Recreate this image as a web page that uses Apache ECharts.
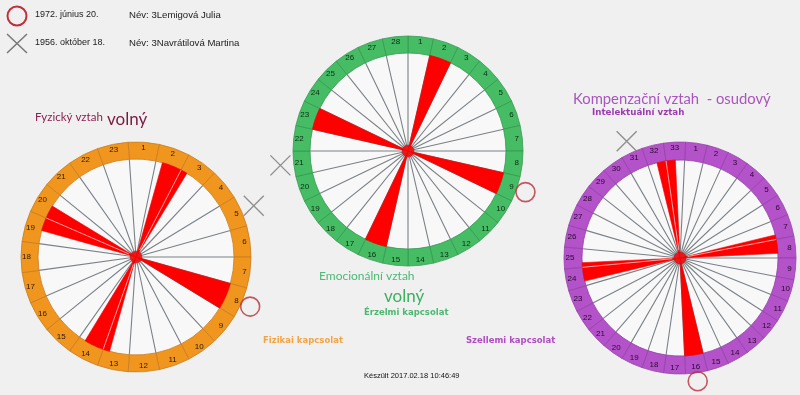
<!DOCTYPE html>
<html><head><meta charset="utf-8">
<script src="https://cdn.jsdelivr.net/npm/echarts@6/dist/echarts.min.js"></script>
<style>html,body{margin:0;padding:0;background:#f0f0f0}#c{width:800px;height:395px}</style>
</head><body><div id="c"></div>
<script>
// ---- data ----
const cycleLengths = [23, 28, 33];
const physicalDays = ['1','2','3','4','5','6','7','8','9','10','11','12','13','14','15','16','17','18','19','20','21','22','23'];
const emotionalDays = ['1','2','3','4','5','6','7','8','9','10','11','12','13','14','15','16','17','18','19','20','21','22','23','24','25','26','27','28'];
const intellectualDays = ['1','2','3','4','5','6','7','8','9','10','11','12','13','14','15','16','17','18','19','20','21','22','23','24','25','26','27','28','29','30','31','32','33'];
// day of cycle of each person (circle = person 1, cross = person 2)
const person1Days = [8, 9, 16];
const person2Days = [5, 21, 31];
// red wedges: start position in cycle units (segment widths)
const physicalWedges = [1.25, 7, 12.75, 18.5];
const emotionalWedges = [1, 8, 15, 22];
const intellectualWedges = [6.75, 15, 23.25, 31.5];

const dayLists = [physicalDays, emotionalDays, intellectualDays];
const wedgeLists = [physicalWedges, emotionalWedges, intellectualWedges];

// ---- layout / style ----
const wheels = [
  {center:[136,257], inner:98, outer:115, ring:'#f0951e', sep:'#c97d22', lab:'#2a1a08'},
  {center:[408,151], inner:98, outer:115, ring:'#46bc64', sep:'#369a52', lab:'#0f2a14'},
  {center:[680,258], inner:98, outer:116, ring:'#b452c9', sep:'#9442aa', lab:'#2a0a30'}
];

function rotation(n){ return 90 - Math.round(n/4) * 360 / n; } // clockwise from top

const polar = [], angleAxis = [], radiusAxis = [], series = [];

function wedgeRender(params, api){
  const s = api.value(1);
  const pts = [api.coord([0, s])];
  const steps = 14;
  for (let t = 0; t <= steps; t++) pts.push(api.coord([1, s + t/steps]));
  const children = [{type:'polygon', shape:{points:pts}, style:{fill:'#ff0000', stroke:'#e80000', lineWidth:0.6}}];
  for (let b = Math.ceil(s); b < s + 1; b++) {
    if (b > s + 0.01 && b < s + 0.99) {
      const p0 = api.coord([0.08, b]), p1 = api.coord([1, b]);
      children.push({type:'line', shape:{x1:p0[0],y1:p0[1],x2:p1[0],y2:p1[1]}, style:{stroke:'rgba(255,200,200,0.8)', lineWidth:1}});
    }
  }
  return {type:'group', children};
}

wheels.forEach((w, i) => {
  const n = cycleLengths[i];
  const start = 90 - rotation(n);
  polar.push({center: w.center, radius: w.inner});
  angleAxis.push({
    polarIndex: i, type: 'value', min: 0, max: n, interval: 1, z: 2,
    startAngle: start, clockwise: true,
    axisLine: {show: false}, axisTick: {show: false}, axisLabel: {show: false},
    splitLine: {show: true, lineStyle: {color: '#7a8187', width: 1.1}},
    splitArea: {show: false}
  });
  radiusAxis.push({
    polarIndex: i, min: 0, max: 1, interval: 1, z: 0,
    axisLine: {show: false}, axisTick: {show: false}, axisLabel: {show: false},
    splitLine: {show: false},
    splitArea: {show: true, areaStyle: {color: ['#f8f8f8']}}
  });

  series.push({
    type: 'pie', center: w.center, radius: [w.inner, w.outer],
    startAngle: start, clockwise: true, silent: true, animation: false,
    itemStyle: {color: w.ring, borderColor: w.sep, borderWidth: 0.8},
    label: {show: true, position: 'inside', formatter: '{b}', fontSize: 8,
            fontFamily: 'Liberation Sans', color: w.lab},
    labelLine: {show: false},
    data: dayLists[i].map(d => ({name: d, value: 1}))
  });
  series.push({
    type: 'custom', coordinateSystem: 'polar', polarIndex: i, silent: true, z: 3,
    renderItem: wedgeRender,
    data: wedgeLists[i].map(s => [1, s])
  });
  series.push({
    type: 'scatter', coordinateSystem: 'polar', polarIndex: i, silent: true, z: 4,
    symbol: 'circle', symbolSize: 12, itemStyle: {color: '#ff0000', borderColor: '#d00000', borderWidth: 0.5},
    data: [[0, 0]]
  });
  series.push({
    type: 'scatter', coordinateSystem: 'polar', polarIndex: i, silent: true, clip: false,
    symbol: 'circle', symbolSize: 19,
    itemStyle: {color: 'rgba(0,0,0,0)', borderColor: '#b8303a', borderWidth: 1.6},
    data: [[1.27, person1Days[i] - 0.5]]
  });
  series.push({
    type: 'scatter', coordinateSystem: 'polar', polarIndex: i, silent: true, clip: false,
    symbol: 'path://M0,0L20,20M20,0L0,20', symbolSize: 20,
    itemStyle: {color: 'rgba(0,0,0,0)', borderColor: '#777', borderWidth: 1.4},
    data: [[1.31, person2Days[i] - 0.5]]
  });
});

function txt(x, y, text, font, fill){
  return {type:'text', x, y, silent:true,
    style:{text, font, fill, textAlign:'left', textVerticalAlign:'middle', align:'left', verticalAlign:'middle'}};
}

const graphic = [
  {type:'circle', shape:{cx:17, cy:16, r:9.5}, style:{fill:'none', stroke:'#c0303a', lineWidth:2}},
  {type:'line', shape:{x1:7,y1:34,x2:27,y2:53}, style:{stroke:'#777', lineWidth:1.5}},
  {type:'line', shape:{x1:27,y1:34,x2:7,y2:53}, style:{stroke:'#777', lineWidth:1.5}},
  txt(35, 15, '1972. június 20.', '9px "Liberation Sans"', '#222'),
  txt(129, 15, 'Név: 3Lemigová Julia', '9.6px "Liberation Sans"', '#222'),
  txt(35, 43, '1956. október 18.', '9px "Liberation Sans"', '#222'),
  txt(129, 43, 'Név: 3Navrátilová Martina', '9.6px "Liberation Sans"', '#222'),
  txt(35, 117, 'Fyzický vztah', '11.5px Lato', '#8a2050'),
  txt(107, 120, 'volný', '17px Lato', '#7a1a40'),
  txt(319, 276, 'Emocionální vztah', '12px Lato', '#4db873'),
  txt(384, 297, 'volný', '17px Lato', '#3cb060'),
  txt(364, 313, 'Érzelmi kapcsolat', 'bold 8.5px "DejaVu Sans"', '#4cb870'),
  txt(263, 341, 'Fizikai kapcsolat', 'bold 8.5px "DejaVu Sans"', '#f2a444'),
  txt(466, 341, 'Szellemi kapcsolat', 'bold 8.5px "DejaVu Sans"', '#b04cc4'),
  txt(573, 99, 'Kompenzační vztah  - osudový', '14.8px Lato', '#a855be'),
  txt(592, 113, 'Intelektuální vztah', 'bold 8.7px "DejaVu Sans"', '#9c3cb0'),
  txt(364, 376, 'Készült 2017.02.18 10:46:49', '7.5px "Liberation Sans"', '#111')
];

const chart = echarts.init(document.getElementById('c'), null, {renderer:'canvas'});
chart.setOption({
  backgroundColor: '#f0f0f0',
  animation: false,
  polar, angleAxis, radiusAxis, series, graphic
});
</script></body></html>
